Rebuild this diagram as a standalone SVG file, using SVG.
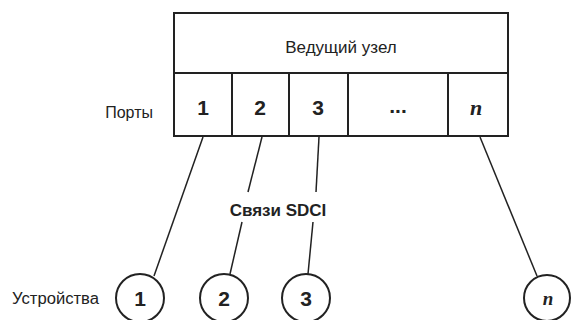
<svg xmlns="http://www.w3.org/2000/svg" width="571" height="320" viewBox="0 0 571 320">
<style>
.box{fill:#fff;stroke:#222;stroke-width:2}
.ln{stroke:#222;stroke-width:1.5;fill:none}
.dev{fill:#fff;stroke:#222;stroke-width:2}
.t{font-family:"Liberation Sans",Arial,sans-serif;fill:#222}
.lbl{font-size:16px}
.num{font-size:21px;font-weight:bold;text-anchor:middle}
.it{font-family:"Liberation Serif","Times New Roman",serif;font-style:italic;font-weight:bold;text-anchor:middle;fill:#222}
</style>
<rect width="571" height="320" fill="#fff"/>
<g id="master">
<rect class="box" x="174" y="13" width="334" height="123"/>
<line class="box" x1="174" y1="73" x2="508" y2="73" stroke-width="2.5"/>
<text class="t" x="341" y="53" font-size="17" text-anchor="middle">Ведущий узел</text>
</g>
<g id="ports">
<line class="box" x1="232" y1="73" x2="232" y2="136"/>
<line class="box" x1="289" y1="73" x2="289" y2="136"/>
<line class="box" x1="348" y1="73" x2="348" y2="136"/>
<line class="box" x1="448" y1="73" x2="448" y2="136"/>
<text class="t num" x="203" y="115">1</text>
<text class="t num" x="260" y="115">2</text>
<text class="t num" x="318" y="115">3</text>
<text class="t num" x="398" y="113" font-size="18">...</text>
<text class="it" x="476" y="115" font-size="22">n</text>
<text class="t lbl" x="153" y="118" text-anchor="end">Порты</text>
</g>
<g id="connectors">
<line class="ln" x1="203" y1="137" x2="154" y2="276"/>
<line class="ln" x1="262" y1="137" x2="248" y2="192"/>
<line class="ln" x1="242" y1="222" x2="230" y2="274"/>
<line class="ln" x1="319" y1="137" x2="316" y2="192"/>
<line class="ln" x1="313" y1="222" x2="308" y2="274"/>
<line class="ln" x1="480" y1="137" x2="537" y2="276"/>
<text class="t" x="278" y="216" font-size="17" font-weight="bold" text-anchor="middle">Связи SDCI</text>
</g>
<g id="dev1"><circle class="dev" cx="140" cy="298" r="24"/><text class="t num" x="140" y="306">1</text></g>
<g id="dev2"><circle class="dev" cx="224" cy="298" r="24"/><text class="t num" x="224" y="306">2</text></g>
<g id="dev3"><circle class="dev" cx="306" cy="298" r="24"/><text class="t num" x="306" y="306">3</text></g>
<g id="devn"><circle class="dev" cx="547" cy="298" r="23"/><text class="it" x="548" y="305" font-size="19">n</text></g>
<text class="t lbl" x="12" y="304" textLength="87" lengthAdjust="spacingAndGlyphs">Устройства</text>
</svg>
